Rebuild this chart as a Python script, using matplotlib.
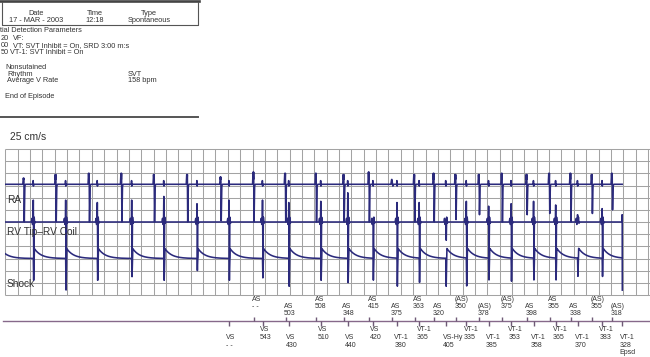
import numpy as np
import matplotlib
matplotlib.use('Agg')
import matplotlib.pyplot as plt

plt.rcParams['font.family'] = ['Liberation Sans', 'DejaVu Sans']

# ---- data read off the strip (time in s, amplitudes in grid cells) ----
# atrial events seen on the RA channel (index 12 is the small late one)
a_times = [0.303, 0.820, 1.359, 1.883, 2.411, 2.948, 3.490, 4.021, 4.534, 5.032,
           5.480, 5.888, 6.260, 6.623, 6.937, 7.290, 7.669, 8.040, 8.441, 8.806,
           9.150, 9.496, 9.822]
ra_peak = [9.6, 9.9, 10.0, 10.0, 9.9, 9.9, 9.7, 10.1, 10.0, 10.0,
           9.9, 10.1, 9.45, 9.9, 10.0, 9.9, 9.9, 10.0, 9.9, 10.0,
           10.0, 9.9, 10.0]
ra_trough = [6.0, 6.0, 6.0, 6.0, 6.0, 6.0, 6.1, 6.0, 6.0, 6.0,
             6.0, 6.0, 9.1, 6.0, 6.0, 6.2, 6.6, 6.0, 6.6, 6.7,
             6.0, 6.7, 7.0]

# ventricular events (last one = end of episode)
v_times = [0.453, 0.977, 1.489, 2.045, 2.565, 3.102, 3.620, 4.162, 4.587, 5.105,
           5.542, 5.950, 6.338, 6.697, 7.128, 7.460, 7.821, 8.185, 8.548, 8.906,
           9.260, 9.658, 9.982]
rv_peak = [7.8, 7.8, 7.6, 7.8, 8.1, 7.5, 7.8, 7.8, 7.6, 7.7,
           8.4, 6.3, 7.6, 7.6, 6.0, 7.7, 7.3, 7.5, 7.7, 7.4,
           6.6, 7.1]
rv_trough = [3.0, 3.0, 3.0, 3.0, 3.0, 3.0, 3.0, 3.0, 3.0, 3.0,
             3.0, 3.0, 3.0, 3.0, 4.5, 3.0, 3.0, 3.0, 3.0, 3.0,
             6.0, 3.0]
shock_trough = [1.2, 0.4, 1.2, 1.5, 1.2, 2.0, 1.2, 1.4, 0.7, 1.2,
                1.0, 1.2, 0.7, 1.0, 0.7, 0.7, 1.2, 1.1, 1.2, 1.2,
                1.5, 1.5]

# marker channel annotations (start at atrial event 7 / ventricular event 6)
as_labels = [('AS', '- -'), ('AS', '503'), ('AS', '508'), ('AS', '348'), ('AS', '415'),
             ('AS', '375'), ('AS', '363'), ('AS', '320'), ('(AS)', '350'), ('(AS)', '378'),
             ('(AS)', '375'), ('AS', '398'), ('AS', '355'), ('AS', '338'), ('(AS)', '355'),
             ('(AS)', '318')]
vs_labels = [('VS', '- -'), ('VS', '543'), ('VS', '430'), ('VS', '510'), ('VS', '440'),
             ('VS', '420'), ('VT-1', '380'), ('VT-1', '365'), ('VS-Hy', '405'), ('VT-1', '335'),
             ('VT-1', '385'), ('VT-1', '353'), ('VT-1', '358'), ('VT-1', '365'), ('VT-1', '370'),
             ('VT-1', '383'), ('VT-1', '328', 'Epsd')]
AS_START = 7
VS_START = 6

RA_BASE, RV_BASE, SH_BASE = 9.1, 6.0, 3.0
INK = '#2b2a7c'
TXT = '#333333'
PX = 0.2 / 12.36   # seconds per pixel on this strip
TAU = 0.11         # decay of the shock-lead recovery

# ---- build the traces from the events ----
t = np.arange(0, v_times[-1], 0.0005)

ra = np.full_like(t, RA_BASE)
for t0, pk, tr in zip(a_times, ra_peak, ra_trough):
    ra += np.interp(t - t0, [-0.02, -0.012, -0.006, -0.002, 0.004, 0.012, 0.024],
                    [0, pk - RA_BASE, 0.4, pk - RA_BASE, tr - RA_BASE, -0.15, 0], left=0, right=0)
for t0 in v_times[:-1]:
    ra += np.interp(t - t0, [-0.006, -0.002, 0.002, 0.006], [0, 0.3, -0.15, 0], left=0, right=0)

rv = np.full_like(t, RV_BASE)
for t0, pk, tr in zip(v_times, rv_peak, rv_trough):
    rv += np.interp(t - t0, [-0.03, -0.02, -0.012, -0.004, 0.0, 0.007, 0.014, 0.022, 0.035],
                    [0, 0.3, -0.2, 0.2, pk - RV_BASE, tr - RV_BASE, 0.4, -0.1, 0], left=0, right=0)

sh = np.full_like(t, SH_BASE) + 0.8 * np.exp(-(t + 0.08) / TAU)
for t0, tr in zip(v_times, shock_trough):
    dt = t - t0
    sh += np.interp(dt, [0, 0.006, 0.018], [0, tr - SH_BASE, 0.8], left=0, right=0)
    tail = dt > 0.018
    sh[tail] += 0.8 * np.exp(-(dt[tail] - 0.018) / TAU)

rv_t = np.append(t, [v_times[-1], v_times[-1] + 0.002])
rv = np.append(rv, [6.6, 0.4])

# ---- figure ----
fig = plt.figure(figsize=(6.5, 3.57), dpi=100)
W, H = 650, 357

hd = fig.add_axes([0, 0, 1, 1])
hd.set_xlim(0, W)
hd.set_ylim(H, 0)
hd.axis('off')

hd.plot([0, 198.5], [1.3, 1.3], color='#444444', lw=1.9)
hd.plot([1.7, 1.7, 198, 198], [2, 25, 25, 2], color='#555555', lw=0.8)
hd.plot([0, 198], [117.3, 117.3], color='#555555', lw=1.4)

hs = 5.3
for cx, top, bottom in [(36, 'Date', '17 - MAR - 2003'), (94.5, 'Time', '12:18'),
                        (149.3, 'Type', 'Spontaneous')]:
    hd.text(cx, 15, top, ha='center', va='baseline', fontsize=hs, color=TXT)
    hd.text(cx, 21.7, bottom, ha='center', va='baseline', fontsize=hs, color=TXT)
hd.text(0.5, 32.5, 'tial Detection Parameters', fontsize=hs, color=TXT, va='baseline')
hd.text(0.5, 39.6, '20', fontsize=hs, color=TXT, va='baseline')
hd.text(12.7, 39.6, 'VF:', fontsize=hs, color=TXT, va='baseline')
hd.text(0.5, 46.7, '00', fontsize=hs, color=TXT, va='baseline')
hd.text(12.7, 46.7, 'VT: SVT Inhibit = On, SRD 3:00 m:s', fontsize=hs, color=TXT, va='baseline')
hd.text(0.5, 53.8, '50', fontsize=hs, color=TXT, va='baseline')
hd.text(10.0, 53.8, 'VT-1: SVT Inhibit = On', fontsize=hs, color=TXT, va='baseline')
hd.text(5, 69, 'Nonsutained', fontsize=hs, color=TXT, va='baseline')
hd.text(7.3, 75.7, 'Rhythm', fontsize=hs, color=TXT, va='baseline')
hd.text(7.3, 82.4, 'Average V Rate', fontsize=hs, color=TXT, va='baseline')
hd.text(127.7, 75.7, 'SVT', fontsize=hs, color=TXT, va='baseline')
hd.text(127.7, 82.4, '158 bpm', fontsize=hs, color=TXT, va='baseline')
hd.text(5, 98.5, 'End of Episode', fontsize=hs, color=TXT, va='baseline')
hd.text(10, 140.2, '25 cm/s', fontsize=7.4, color=TXT, va='baseline')

# strip with the three channels
x0, y_top, y_bot = 5.3, 149, 295
ax = fig.add_axes([x0 / W, (H - y_bot) / H, (W - x0) / W, (y_bot - y_top) / H])
ax.set_xlim(0, (W - x0) * PX)
ax.set_ylim(0, 12)
ax.axis('off')
ax.vlines(np.arange(0, 10.45, 0.2), 0, 12, color='#a3a3a3', lw=0.75, clip_on=False)
ax.hlines(np.arange(0, 13), 0, (W - x0) * PX, color='#a3a3a3', lw=0.75, clip_on=False)

ax.plot(t, ra, color=INK, lw=1.15)
ax.plot(rv_t, rv, color=INK, lw=1.15)
ax.plot(t, sh, color=INK, lw=1.15)

ax.text(0.023, 7.53, 'RA', fontsize=7.3, color=TXT, va='baseline')
ax.text(0.023, 4.93, 'RV Tip\u2013RV Coil', fontsize=7.3, color=TXT, va='baseline')
ax.text(0.023, 0.63, 'Shock', fontsize=7.3, color=TXT, va='baseline')

# marker channel
mk = fig.add_axes([x0 / W, 0, (W - x0) / W, (H - y_bot) / H])
mk.set_xlim(0, (W - x0) * PX)
mk.set_ylim(H, y_bot)
mk.axis('off')
mk.plot([-2.3 * PX, (W - x0) * PX], [321.3, 321.3], color='#86698a', lw=1.0, clip_on=False)

as_t = a_times[AS_START:]
vs_t = v_times[VS_START:]
mk.vlines(as_t, 317.2, 321.3, color='#6f5a76', lw=1.0)
mk.vlines(vs_t, 321.3, 326.0, color='#6f5a76', lw=1.0)

ms = 5.0
for i, (t0, lab) in enumerate(zip(as_t, as_labels)):
    y1 = 299.3 if i % 2 == 0 else 306.2
    for k, s in enumerate(lab):
        mk.text(t0 - 1.5 * PX, y1 + 7 * k, s, fontsize=ms, color=TXT, ha='left', va='center')
for i, (t0, lab) in enumerate(zip(vs_t, vs_labels)):
    y1 = 337.5 if i % 2 == 0 else 329.5
    for k, s in enumerate(lab):
        mk.text(t0 - 2.7 * PX, y1 + 7.6 * k, s, fontsize=ms, color=TXT, ha='left', va='center')

fig.savefig('out.png', dpi=100)
